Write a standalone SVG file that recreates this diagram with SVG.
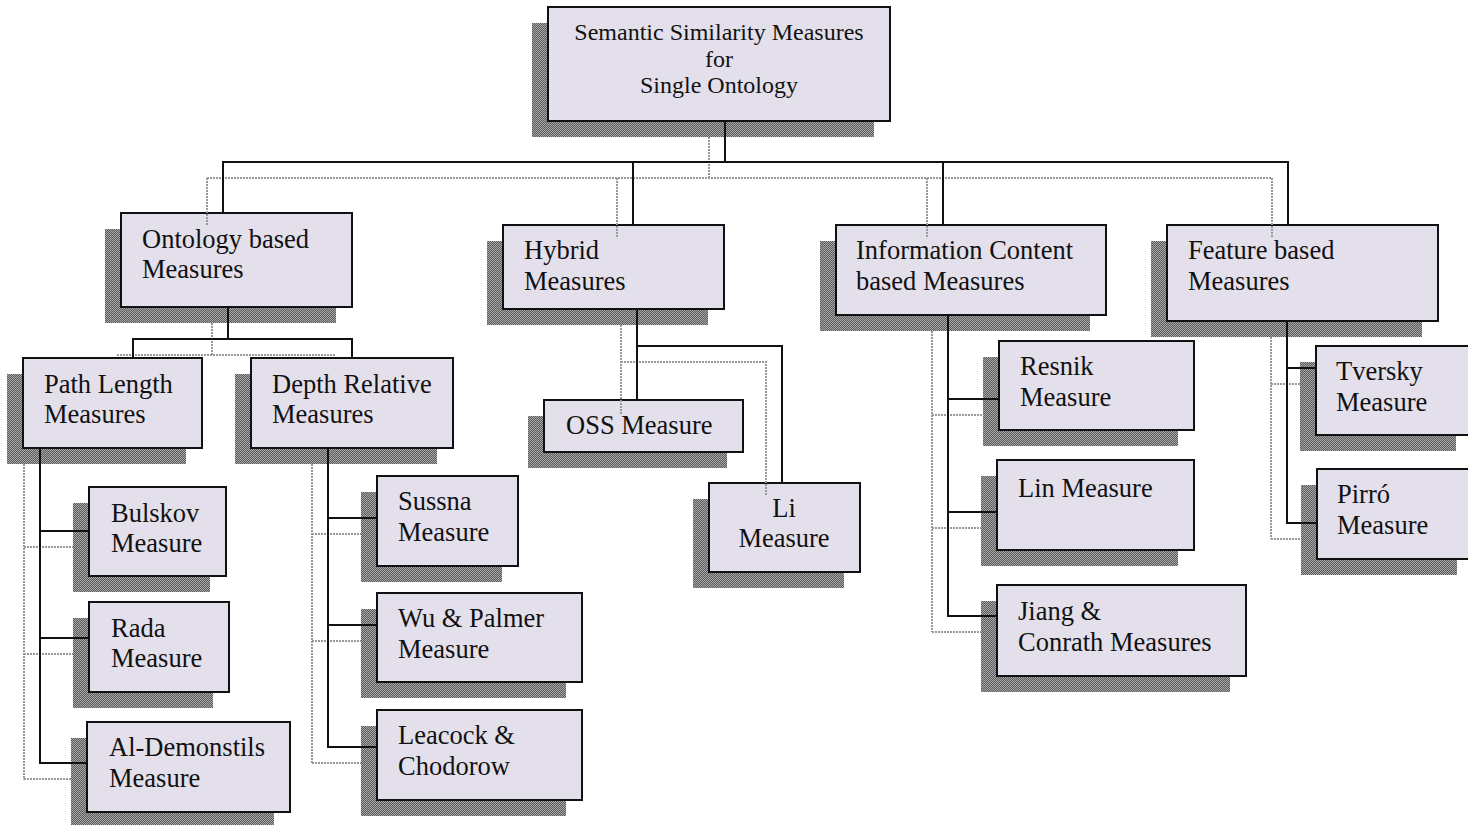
<svg xmlns="http://www.w3.org/2000/svg" width="1468" height="825" viewBox="0 0 1468 825">
  <defs>
    <!-- dithered grey used for drop shadows -->
    <pattern id="dither" width="2" height="2" patternUnits="userSpaceOnUse">
      <rect width="2" height="2" fill="#5c5c5c"/>
      <rect x="0" y="0" width="1" height="1" fill="#a6a6a6"/>
      <rect x="1" y="1" width="1" height="1" fill="#a6a6a6"/>
    </pattern>
    <style>
      .shadow { fill: url(#dither); }
      .box { fill: #e3dfeb; stroke: #111; stroke-width: 2; }
      .lbl { font-family: "Liberation Serif", "Times New Roman", serif; font-size: 26.5px; fill: #111; }
      .root { font-size: 24px; text-anchor: middle; }
      .mid { text-anchor: middle; }
      .link { fill: none; stroke: #111; stroke-width: 2; }
      .link-shadow { fill: none; stroke: #999999; stroke-width: 2; stroke-dasharray: 2 1; }
    </style>
  </defs>
  <rect width="1468" height="825" fill="#ffffff"/>

  <g id="nodes">
    <g id="root">
      <rect class="shadow" x="532" y="23" width="342" height="114"/>
      <rect class="box" x="548" y="7" width="342" height="114"/>
      <text class="lbl root" x="719" y="40">Semantic Similarity Measures</text>
      <text class="lbl root" x="719" y="67">for</text>
      <text class="lbl root" x="719" y="93">Single Ontology</text>
    </g>
    <g id="ontology-based">
      <rect class="shadow" x="105" y="229" width="231" height="94"/>
      <rect class="box" x="121" y="213" width="231" height="94"/>
      <text class="lbl" x="142" y="248">Ontology based</text>
      <text class="lbl" x="142" y="278">Measures</text>
    </g>
    <g id="hybrid">
      <rect class="shadow" x="487" y="241" width="221" height="84"/>
      <rect class="box" x="503" y="225" width="221" height="84"/>
      <text class="lbl" x="524" y="259">Hybrid</text>
      <text class="lbl" x="524" y="290">Measures</text>
    </g>
    <g id="information-content">
      <rect class="shadow" x="820" y="241" width="270" height="90"/>
      <rect class="box" x="836" y="225" width="270" height="90"/>
      <text class="lbl" x="856" y="259">Information Content</text>
      <text class="lbl" x="856" y="290">based Measures</text>
    </g>
    <g id="feature-based">
      <rect class="shadow" x="1151" y="241" width="271" height="96"/>
      <rect class="box" x="1167" y="225" width="271" height="96"/>
      <text class="lbl" x="1188" y="259">Feature based</text>
      <text class="lbl" x="1188" y="290">Measures</text>
    </g>
    <g id="path-length">
      <rect class="shadow" x="7" y="374" width="179" height="90"/>
      <rect class="box" x="23" y="358" width="179" height="90"/>
      <text class="lbl" x="44" y="393">Path Length</text>
      <text class="lbl" x="44" y="423">Measures</text>
    </g>
    <g id="depth-relative">
      <rect class="shadow" x="235" y="374" width="202" height="90"/>
      <rect class="box" x="251" y="358" width="202" height="90"/>
      <text class="lbl" x="272" y="393">Depth Relative</text>
      <text class="lbl" x="272" y="423">Measures</text>
    </g>
    <g id="bulskov">
      <rect class="shadow" x="73" y="503" width="137" height="89"/>
      <rect class="box" x="89" y="487" width="137" height="89"/>
      <text class="lbl" x="111" y="522">Bulskov</text>
      <text class="lbl" x="111" y="552">Measure</text>
    </g>
    <g id="rada">
      <rect class="shadow" x="73" y="618" width="140" height="90"/>
      <rect class="box" x="89" y="602" width="140" height="90"/>
      <text class="lbl" x="111" y="637">Rada</text>
      <text class="lbl" x="111" y="667">Measure</text>
    </g>
    <g id="al-demonstils">
      <rect class="shadow" x="71" y="738" width="203" height="90"/>
      <rect class="box" x="87" y="722" width="203" height="90"/>
      <text class="lbl" x="109" y="756">Al-Demonstils</text>
      <text class="lbl" x="109" y="787">Measure</text>
    </g>
    <g id="sussna">
      <rect class="shadow" x="361" y="492" width="141" height="90"/>
      <rect class="box" x="377" y="476" width="141" height="90"/>
      <text class="lbl" x="398" y="510">Sussna</text>
      <text class="lbl" x="398" y="541">Measure</text>
    </g>
    <g id="wu-palmer">
      <rect class="shadow" x="361" y="609" width="205" height="89"/>
      <rect class="box" x="377" y="593" width="205" height="89"/>
      <text class="lbl" x="398" y="627">Wu &amp; Palmer</text>
      <text class="lbl" x="398" y="658">Measure</text>
    </g>
    <g id="leacock-chodorow">
      <rect class="shadow" x="361" y="726" width="205" height="90"/>
      <rect class="box" x="377" y="710" width="205" height="90"/>
      <text class="lbl" x="398" y="744">Leacock &amp;</text>
      <text class="lbl" x="398" y="775">Chodorow</text>
    </g>
    <g id="oss">
      <rect class="shadow" x="528" y="416" width="199" height="52"/>
      <rect class="box" x="544" y="400" width="199" height="52"/>
      <text class="lbl" x="566" y="434">OSS Measure</text>
    </g>
    <g id="li">
      <rect class="shadow" x="693" y="499" width="151" height="89"/>
      <rect class="box" x="709" y="483" width="151" height="89"/>
      <text class="lbl mid" x="784" y="517">Li</text>
      <text class="lbl mid" x="784" y="547">Measure</text>
    </g>
    <g id="resnik">
      <rect class="shadow" x="983" y="357" width="195" height="89"/>
      <rect class="box" x="999" y="341" width="195" height="89"/>
      <text class="lbl" x="1020" y="375">Resnik</text>
      <text class="lbl" x="1020" y="406">Measure</text>
    </g>
    <g id="lin">
      <rect class="shadow" x="981" y="476" width="197" height="90"/>
      <rect class="box" x="997" y="460" width="197" height="90"/>
      <text class="lbl" x="1018" y="497">Lin Measure</text>
    </g>
    <g id="jiang-conrath">
      <rect class="shadow" x="981" y="601" width="249" height="91"/>
      <rect class="box" x="997" y="585" width="249" height="91"/>
      <text class="lbl" x="1018" y="620">Jiang &amp;</text>
      <text class="lbl" x="1018" y="651">Conrath Measures</text>
    </g>
    <g id="tversky">
      <rect class="shadow" x="1300" y="362" width="156" height="89"/>
      <rect class="box" x="1316" y="346" width="160" height="89"/>
      <text class="lbl" x="1336" y="380">Tversky</text>
      <text class="lbl" x="1336" y="411">Measure</text>
    </g>
    <g id="pirro">
      <rect class="shadow" x="1301" y="485" width="156" height="90"/>
      <rect class="box" x="1317" y="469" width="160" height="90"/>
      <text class="lbl" x="1337" y="503">Pirró</text>
      <text class="lbl" x="1337" y="534">Measure</text>
    </g>
  </g>

  <g id="connectors">
    <!-- connector shadows -->
    <path class="link-shadow" d="M709,137 V178 M207,178 H1272 M207,178 V225 M617,178 V237 M927,178 V237 M1272,178 V237"/>
    <path class="link-shadow" d="M212,323 V355 M117,355 H336"/>
    <path class="link-shadow" d="M24,464 V780 M24,547 H73 M24,654 H73 M24,779 H71"/>
    <path class="link-shadow" d="M312,464 V763 M312,534 H361 M312,641 H361 M312,763 H361"/>
    <path class="link-shadow" d="M621,325 V414 M621,362 H766 V496"/>
    <path class="link-shadow" d="M932,331 V632 M932,415 H983 M932,528 H981 M932,632 H981"/>
    <path class="link-shadow" d="M1271,337 V539 M1271,384 H1300 M1271,539 H1301"/>
    <!-- connectors -->
    <path class="link" d="M725,121 V162 M222,162 H1289 M223,162 V213 M633,162 V225 M943,162 V225 M1288,162 V225"/>
    <path class="link" d="M228,307 V339 M133,358 V339 H352 V358"/>
    <path class="link" d="M40,448 V764 M40,531 H89 M40,638 H89 M40,763 H87"/>
    <path class="link" d="M328,448 V748 M328,518 H377 M328,625 H377 M328,747 H377"/>
    <path class="link" d="M637,309 V400 M637,346 H782 V483"/>
    <path class="link" d="M948,315 V617 M948,399 H999 M948,512 H997 M948,616 H997"/>
    <path class="link" d="M1287,321 V524 M1287,368 H1316 M1287,523 H1317"/>
  </g>
</svg>
